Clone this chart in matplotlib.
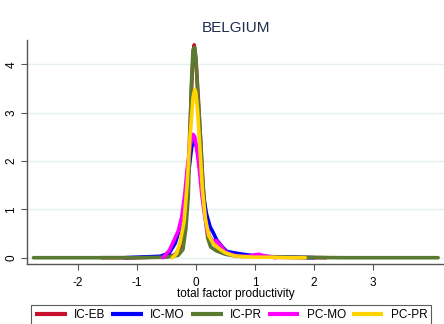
import matplotlib
matplotlib.use("Agg")
import matplotlib.pyplot as plt

plt.rcParams['font.family'] = ['Liberation Sans', 'DejaVu Sans']
plt.rcParams['axes.unicode_minus'] = False

series_names = ["IC-EB", "IC-MO", "IC-PR", "PC-MO", "PC-PR"]
series_colors = ["#c8102e", "#0000ff", "#5a7a32", "#ff00ff", "#ffd400"]

ic_eb_x = [-1.6, -1.0, -0.5, -0.35, -0.25, -0.18, -0.13, -0.09, -0.06, -0.03, 0.0, 0.04, 0.08, 0.12, 0.17, 0.22, 0.3, 0.4, 0.6, 0.9, 1.3, 2.2]
ic_eb_y = [0.0, 0.0, 0.02, 0.06, 0.25, 0.8, 1.8, 3.0, 3.9, 4.4, 4.1, 3.3, 2.4, 1.5, 0.8, 0.45, 0.3, 0.18, 0.08, 0.03, 0.01, 0.0]

ic_mo_x = [-1.2, -0.6, -0.45, -0.35, -0.25, -0.18, -0.12, -0.07, -0.03, 0.0, 0.04, 0.08, 0.13, 0.18, 0.24, 0.3, 0.35, 0.45, 0.52, 0.65, 0.8, 1.0, 1.3, 2.0]
ic_mo_y = [0.0, 0.03, 0.1, 0.3, 0.7, 1.2, 1.8, 2.3, 2.41, 2.35, 2.1, 1.7, 1.25, 0.9, 0.64, 0.5, 0.37, 0.22, 0.13, 0.1, 0.07, 0.04, 0.02, 0.0]

ic_pr_x = [-2.75, -2.0, -1.0, -0.5, -0.3, -0.22, -0.17, -0.13, -0.1, -0.08, -0.05, -0.02, 0.0, 0.03, 0.07, 0.11, 0.15, 0.2, 0.25, 0.35, 0.5, 0.7, 1.0, 1.5, 2.5, 4.1]
ic_pr_y = [0.0, 0.0, 0.0, 0.01, 0.05, 0.17, 0.6, 1.27, 2.5, 3.5, 4.3, 4.35, 4.1, 3.4, 2.65, 1.7, 0.93, 0.4, 0.22, 0.14, 0.07, 0.03, 0.02, 0.01, 0.0, 0.0]

pc_mo_x = [-0.56, -0.45, -0.39, -0.3, -0.24, -0.19, -0.15, -0.1, -0.05, -0.02, 0.02, 0.06, 0.1, 0.15, 0.2, 0.27, 0.35, 0.42, 0.5, 0.6, 0.75, 0.9, 1.0, 1.07, 1.15, 1.35]
pc_mo_y = [0.0, 0.15, 0.31, 0.55, 0.85, 1.3, 1.82, 2.3, 2.55, 2.5, 2.2, 1.8, 1.3, 0.85, 0.5, 0.35, 0.35, 0.25, 0.12, 0.06, 0.03, 0.03, 0.06, 0.07, 0.04, 0.0]

pc_pr_x = [-0.4, -0.33, -0.27, -0.2, -0.15, -0.1, -0.05, -0.02, 0.0, 0.03, 0.07, 0.11, 0.16, 0.22, 0.3, 0.4, 0.5, 0.65, 0.8, 1.0, 1.3, 1.6, 1.85]
pc_pr_y = [0.0, 0.08, 0.3, 0.75, 1.5, 2.5, 3.3, 3.48, 3.4, 3.0, 2.2, 1.4, 0.8, 0.45, 0.28, 0.18, 0.1, 0.04, 0.02, 0.01, 0.01, 0.0, 0.0]

x_ticks = [-2, -1, 0, 1, 2, 3]
y_ticks = [0, 1, 2, 3, 4]

fig = plt.figure(figsize=(4.44, 3.24), dpi=100)
fig.patch.set_facecolor("white")
ax = fig.add_axes([27/444, 1 - 264/324, 1 - 27/444, (264 - 40)/324])

data = [(ic_eb_x, ic_eb_y), (ic_mo_x, ic_mo_y), (ic_pr_x, ic_pr_y), (pc_mo_x, pc_mo_y), (pc_pr_x, pc_pr_y)]
for (xs, ys), name, col in zip(data, series_names, series_colors):
    ax.plot(xs, ys, color=col, lw=2.6, label=name, solid_joinstyle='round', solid_capstyle='round')

ax.set_xlim(-2.86, 4.2)
ax.set_ylim(-0.13, 4.5)
ax.set_xticks(x_ticks)
ax.set_xticklabels([str(t) for t in x_ticks])
ax.set_yticks(y_ticks)
ax.set_yticklabels([str(t) for t in y_ticks], rotation=90, va='center')
ax.grid(axis='y', color='#e6efef', lw=1.0)
ax.set_axisbelow(True)
for s in ['top', 'right']:
    ax.spines[s].set_visible(False)
for s in ['left', 'bottom']:
    ax.spines[s].set_color('#555555')
    ax.spines[s].set_linewidth(1.0)
ax.tick_params(axis='both', labelsize=8.5, length=4, width=0.8, color='#555555', pad=3)
ax.tick_params(axis='x', pad=5)
ax.set_xlabel("total factor productivity", fontsize=8.5, labelpad=0)
ax.set_title("BELGIUM", fontsize=11, color='#1f2f4f', pad=6)

leg = fig.legend(loc='upper left', bbox_to_anchor=(31/444, 1 - 305/324), ncol=5,
                 fontsize=8.5, frameon=True, fancybox=False, handlelength=2.7,
                 handletextpad=0.6, columnspacing=0.5, borderpad=0.35,
                 borderaxespad=0)
leg.get_frame().set_edgecolor('#333333')
leg.get_frame().set_linewidth(0.8)
for h in leg.get_lines():
    h.set_linewidth(3)
    h.set_solid_capstyle('butt')

fig.savefig("out.png", dpi=100)
